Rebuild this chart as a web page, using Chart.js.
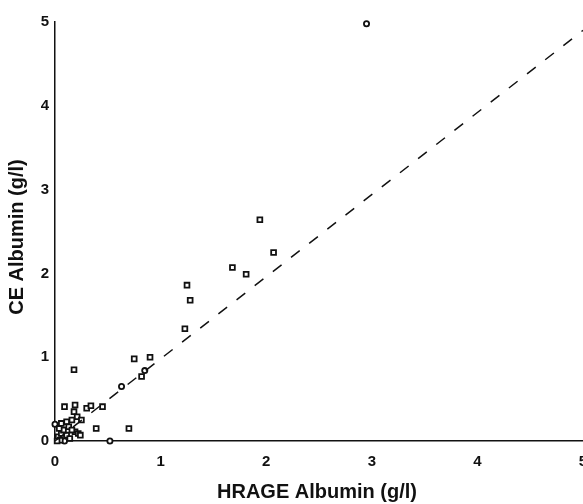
<!DOCTYPE html>
<html>
<head>
<meta charset="utf-8">
<script src="https://cdn.jsdelivr.net/npm/chart.js@4/dist/chart.umd.min.js"></script>
<style>
  html, body { margin: 0; padding: 0; background: #fff; }
  #wrap { width: 583px; height: 504px; position: relative; }
</style>
</head>
<body>
<div id="wrap"><canvas id="c" width="583" height="504"></canvas></div>
<script>
// Data (HRAGE albumin vs CE albumin, g/l)
const squareX = [1.94, 2.07, 1.68, 1.81, 1.25, 1.28, 1.23, 0.75, 0.90, 0.82, 0.45, 0.70, 0.39,
                 0.18, 0.09, 0.19, 0.18, 0.30, 0.34, 0.21, 0.16, 0.25, 0.11, 0.06, 0.19, 0.22,
                 0.24, 0.13, 0.16, 0.03, 0.06, 0.05, 0.02, 0.11, 0.08, 0.14, 0.04];
const squareY = [2.64, 2.25, 2.07, 1.99, 1.86, 1.68, 1.34, 0.98, 1.00, 0.77, 0.41, 0.15, 0.15,
                 0.85, 0.41, 0.43, 0.35, 0.39, 0.42, 0.29, 0.25, 0.25, 0.23, 0.21, 0.11, 0.09,
                 0.07, 0.17, 0.13, 0.05, 0.09, 0.01, 0.00, 0.07, 0.13, 0.03, 0.15];
const circleX = [2.95, 0.85, 0.63, 0.52, 0.09, 0.00];
const circleY = [4.98, 0.84, 0.65, 0.00, 0.00, 0.20];
const lineX = [0, 5];
const lineY = [0, 4.9];
const tickValues = [0, 1, 2, 3, 4, 5];
const xTitle = 'HRAGE Albumin (g/l)';
const yTitle = 'CE Albumin (g/l)';

const toPts = (xs, ys) => xs.map((x, i) => ({ x: x, y: ys[i] }));

const titlePlugin = {
  id: 'titles',
  afterDraw(chart) {
    const ctx = chart.ctx;
    ctx.save();
    ctx.fillStyle = '#111';
    ctx.font = 'bold 20px "Liberation Sans", Arial, sans-serif';
    ctx.textAlign = 'center';
    ctx.textBaseline = 'middle';
    ctx.fillText(xTitle, 317, 492);
    ctx.translate(17, 237);
    ctx.rotate(-Math.PI / 2);
    ctx.fillText(yTitle, 0, 0);
    ctx.restore();
  }
};

const tickFont = { family: '"Liberation Sans Narrow", "Liberation Sans", Arial, sans-serif', size: 15, weight: 'bold' };

new Chart(document.getElementById('c'), {
  type: 'scatter',
  data: {
    datasets: [
      {
        type: 'line',
        data: toPts(lineX, lineY),
        borderColor: '#111',
        borderWidth: 1.5,
        borderDash: [11, 12],
        pointRadius: 0,
        fill: false,
        clip: false
      },
      {
        data: toPts(squareX, squareY),
        pointStyle: 'rect',
        pointRadius: 3.4,
        borderWidth: 1.8,
        borderColor: '#111',
        backgroundColor: '#fff',
        clip: false
      },
      {
        data: toPts(circleX, circleY),
        pointStyle: 'circle',
        pointRadius: 2.6,
        borderWidth: 1.8,
        borderColor: '#111',
        backgroundColor: '#fff',
        clip: false
      }
    ]
  },
  options: {
    responsive: false,
    animation: false,
    events: [],
    layout: { autoPadding: false, padding: { top: 22, right: 0, bottom: 0, left: 0 } },
    plugins: { legend: { display: false }, tooltip: { enabled: false } },
    scales: {
      x: {
        type: 'linear',
        min: 0, max: 5,
        afterBuildTicks(scale) { scale.ticks = tickValues.map(v => ({ value: v })); },
        afterFit(scale) { scale.height = 63; scale.paddingLeft = 0; scale.paddingRight = 0; },
        grid: { display: false, drawTicks: false },
        border: { display: true, color: '#111', width: 1.5 },
        ticks: { color: '#111', font: tickFont, padding: 12, maxRotation: 0, autoSkip: false }
      },
      y: {
        type: 'linear',
        min: 0, max: 5,
        afterBuildTicks(scale) { scale.ticks = tickValues.map(v => ({ value: v })); },
        afterFit(scale) { scale.width = 55; scale.paddingTop = 0; scale.paddingBottom = 0; },
        grid: { display: false, drawTicks: false },
        border: { display: true, color: '#111', width: 1.5 },
        ticks: { color: '#111', font: tickFont, padding: 6, autoSkip: false }
      }
    }
  },
  plugins: [titlePlugin]
});
</script>
</body>
</html>
